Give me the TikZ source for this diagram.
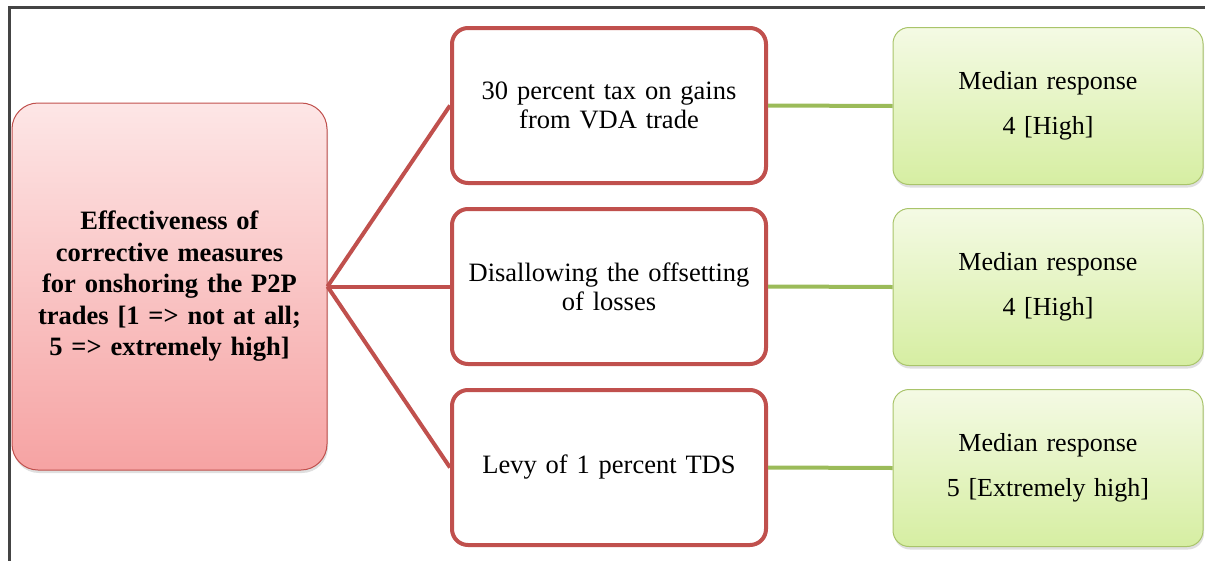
\documentclass[tikz,border=0pt]{standalone}
\usepackage{fontspec}
\setmainfont[WordSpace=0.75]{Liberation Serif}
\usetikzlibrary{shadows}
\definecolor{redline}{HTML}{C0504D}
\definecolor{greenline}{HTML}{9BBB59}
\definecolor{pinktop}{HTML}{FDE6E6}
\definecolor{pinkbot}{HTML}{F6A3A3}
\definecolor{greentop}{HTML}{F4FAE4}
\definecolor{greenbot}{HTML}{D6EEA2}
\definecolor{greenborder}{HTML}{A9C46A}
\definecolor{frame}{HTML}{444444}
\tikzset{
  rootbox/.style={draw=redline, line width=1pt, rounded corners=26pt, top color=pinktop, bottom color=pinkbot,
    minimum width=315pt, minimum height=367pt, align=center, text width=300pt,
    font=\fontsize{26.5}{31.5}\selectfont\bfseries,
    drop shadow={opacity=0.25, shadow xshift=1pt, shadow yshift=-3pt}},
  midbox/.style={draw=redline, line width=4pt, rounded corners=16pt, fill=white,
    minimum width=314pt, minimum height=155pt, align=center, text width=305pt,
    font=\fontsize{26.5}{29}\selectfont},
  resbox/.style={draw=greenborder, line width=1pt, rounded corners=16pt, top color=greentop, bottom color=greenbot,
    minimum width=310pt, minimum height=157pt, align=center, text width=300pt,
    font=\fontsize{26}{45}\selectfont,
    drop shadow={opacity=0.25, shadow xshift=1pt, shadow yshift=-3pt}},
  redconn/.style={draw=redline, line width=4pt},
  greenconn/.style={draw=greenline, line width=4pt}
}
\begin{document}
\begin{tikzpicture}[x=1pt,y=-1pt]
\useasboundingbox (0,0) rectangle (1205,560);
\draw[frame, line width=3pt] (9,7) rectangle (1220,575);

\node[rootbox] (root) at (169.5,286.5) {Effectiveness of\\corrective measures\\for onshoring the P2P\\trades [1 => not at all;\\5 => extremely high]};

\node[midbox] (m1) at (609,105.5) {30 percent tax on gains\\from VDA trade};
\node[midbox] (m2) at (609,286.5) {Disallowing the offsetting\\of losses};
\node[midbox] (m3) at (609,467.5) {Levy of 1 percent TDS};

\node[resbox] (r1) at (1048,106) {Median response\\4 [High]};
\node[resbox] (r2) at (1048,287) {Median response\\4 [High]};
\node[resbox] (r3) at (1048,468) {Median response\\5 [Extremely high]};

\draw[redconn] (root.east) -- (m1.west);
\draw[redconn] (root.east) -- (m2.west);
\draw[redconn] (root.east) -- (m3.west);
\draw[greenconn] (m1.east) -- (r1.west);
\draw[greenconn] (m2.east) -- (r2.west);
\draw[greenconn] (m3.east) -- (r3.west);
\end{tikzpicture}
\end{document}
